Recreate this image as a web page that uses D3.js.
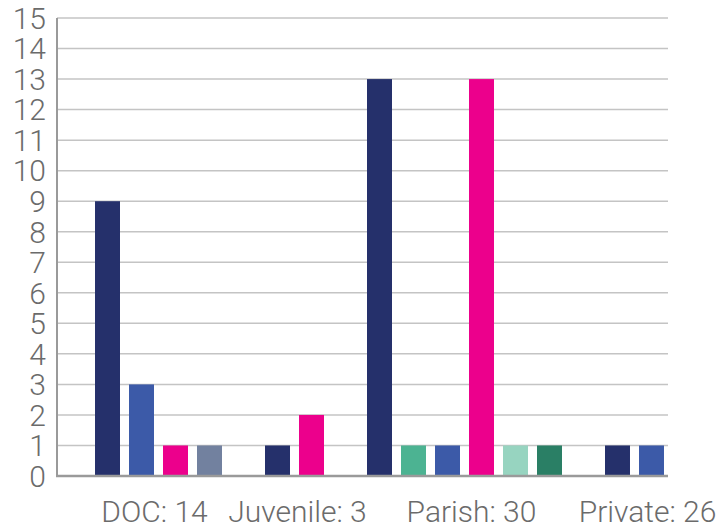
<!DOCTYPE html>
<html><head><meta charset="utf-8">
<script src="https://cdn.jsdelivr.net/npm/d3@7"></script>
<style>body{margin:0;background:#fff}svg{display:block;font-family:Roboto,sans-serif;font-weight:300}</style>
</head><body><svg id="c" width="719" height="529"></svg>
<script>
const categories = ["DOC: 14", "Juvenile: 3", "Parish: 30", "Private: 26"];
const docValues = [9, 3, 1, 1];
const juvenileValues = [1, 2];
const parishValues = [13, 1, 1, 13, 1, 1];
const privateValues = [1, 1];
const docColors = ["#25306b", "#3c5aa8", "#ec008c", "#72819f"];
const juvenileColors = ["#25306b", "#ec008c"];
const parishColors = ["#25306b", "#4cb392", "#3c5aa8", "#ec008c", "#97d4c0", "#2a7f65"];
const privateColors = ["#25306b", "#3c5aa8"];
const yTicks = d3.range(0, 16);

const groups = [
  {label: categories[0], values: docValues, colors: docColors},
  {label: categories[1], values: juvenileValues, colors: juvenileColors},
  {label: categories[2], values: parishValues, colors: parishColors},
  {label: categories[3], values: privateValues, colors: privateColors}
];
const slots = [];
const bars = [];
groups.forEach((g, gi) => {
  slots.push("gap" + gi);
  g.values.forEach((v, i) => {
    const key = gi + "-" + i;
    slots.push(key);
    bars.push({key, value: v, color: g.colors[i], group: gi});
  });
});

const L = 57, R = 668, T = 18, B = 476;
const svg = d3.select("#c");
const x = d3.scaleBand().domain(slots).range([L, R]).paddingInner(0.265).paddingOuter(0.118);
const y = d3.scaleLinear().domain([0, 15]).range([B, T]);

svg.append("g").selectAll("line").data(yTicks.filter(t => t > 0)).join("line")
  .attr("x1", L).attr("x2", R).attr("y1", d => y(d)).attr("y2", d => y(d))
  .attr("stroke", "#c4c4c4").attr("stroke-width", 1.5);

svg.append("g").selectAll("rect").data(bars).join("rect")
  .attr("x", d => x(d.key)).attr("width", x.bandwidth())
  .attr("y", d => y(d.value)).attr("height", d => y(0) - y(d.value))
  .attr("fill", d => d.color);

svg.append("line").attr("x1", L).attr("x2", L).attr("y1", T).attr("y2", B + 1)
  .attr("stroke", "#9a9a9a").attr("stroke-width", 2);
svg.append("line").attr("x1", L - 1).attr("x2", R).attr("y1", B).attr("y2", B)
  .attr("stroke", "#9a9a9a").attr("stroke-width", 2.5);

svg.append("g").selectAll("text").data(yTicks).join("text")
  .attr("x", 46).attr("y", d => y(d)).attr("dy", "0.36em")
  .attr("text-anchor", "end").attr("fill", "#6b6b6b").attr("font-size", 30)
  .text(d => d);

const labelShift = [-4, 3, 7, 13];
svg.append("g").selectAll("text").data(groups).join("text")
  .attr("x", (g, gi) => {
    const ks = bars.filter(b => b.group === gi).map(b => b.key);
    const a = x(ks[0]), b = x(ks[ks.length - 1]) + x.bandwidth();
    return (a + b) / 2 + labelShift[gi];
  })
  .attr("y", 522).attr("text-anchor", "middle").attr("fill", "#6b6b6b").attr("font-size", 30)
  .text(g => g.label);
</script></body></html>
